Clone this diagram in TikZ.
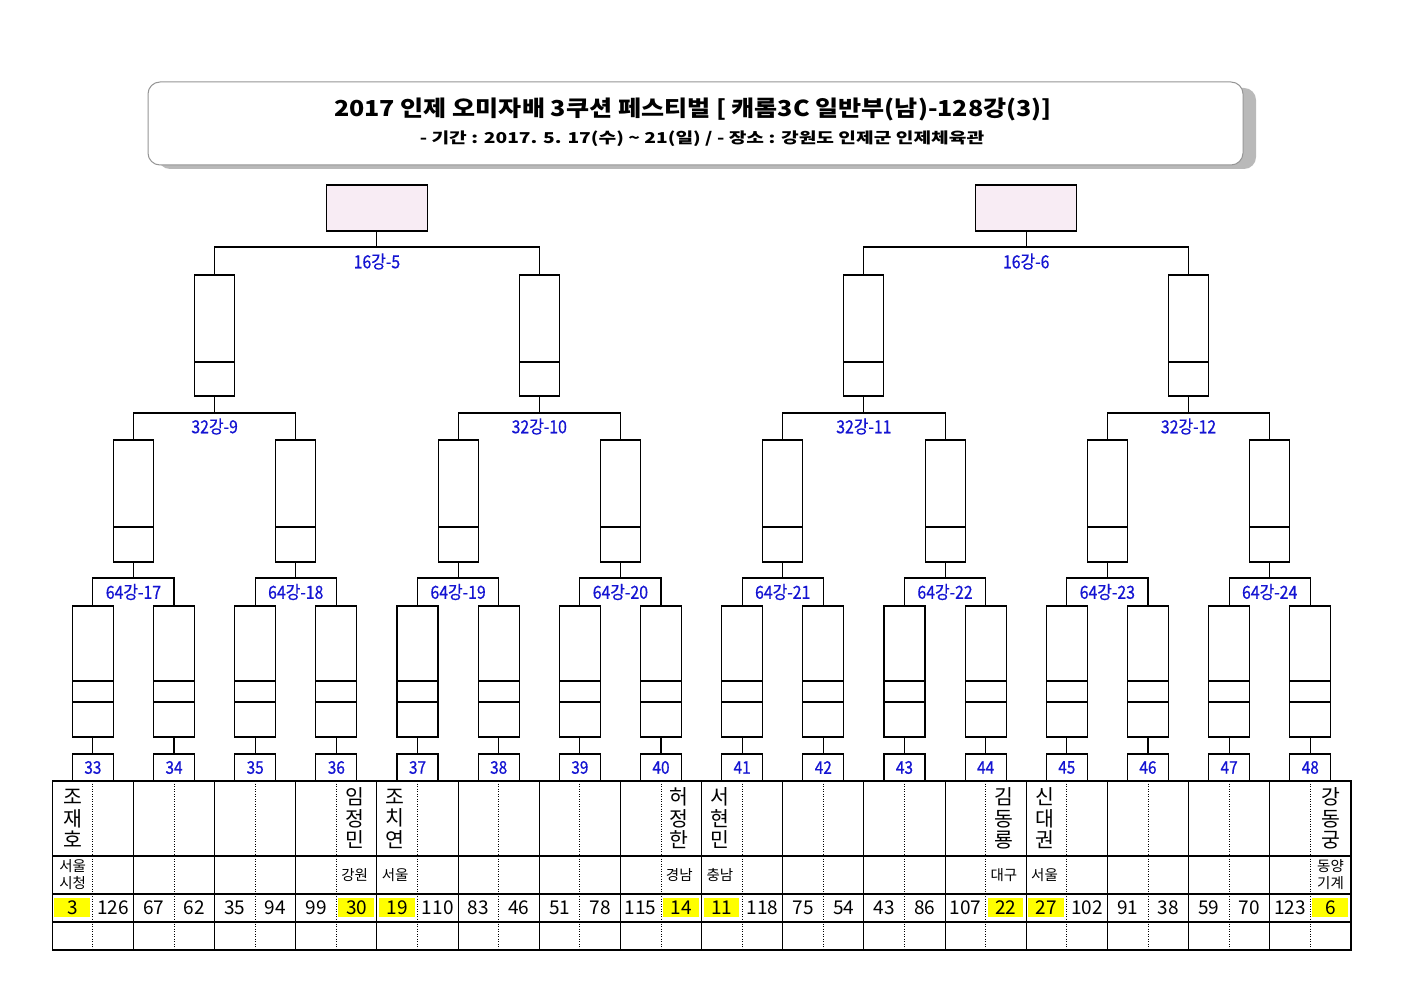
\documentclass[tikz,border=0pt]{standalone}
\usepackage{fontspec}
\setmainfont{Noto Sans CJK KR}
\newfontfamily\labfont[FakeStretch=0.88,FakeBold=0.6]{Noto Sans CJK KR}
\newfontfamily\ttlfont[FakeStretch=1.14]{Noto Sans CJK KR}
\newfontfamily\subfont[FakeStretch=1.28]{Noto Sans CJK KR}
\definecolor{labblue}{RGB}{20,20,210}
\definecolor{pinkfill}{RGB}{248,236,244}
\definecolor{tborder}{RGB}{150,150,150}
\definecolor{tshadow}{RGB}{185,185,185}
\definecolor{hiyellow}{RGB}{255,255,0}
\begin{document}
\begin{tikzpicture}[x=1pt,y=-1pt,line width=1.1pt,
  mbox64/.style={draw,minimum width=41pt,minimum height=131pt,inner sep=0pt},
  mbox32/.style={draw,minimum width=40pt,minimum height=122pt,inner sep=0pt},
  mbox16/.style={draw,minimum width=40pt,minimum height=121pt,inner sep=0pt},
  pinkbox/.style={draw,fill=pinkfill,minimum width=101pt,minimum height=46pt,inner sep=0pt},
  numbox/.style={draw,minimum width=41pt,minimum height=27pt,inner sep=0pt,text=labblue,font=\labfont\fontsize{17.5}{17.5}\selectfont},
  lab/.style={inner sep=0pt,text=labblue,font=\labfont\fontsize{18}{18}\selectfont},
  numtxt/.style={inner sep=0pt,font=\fontsize{19}{19}\selectfont},
  nametxt/.style={inner sep=0pt,align=center,font=\fontsize{20.5}{21.5}\selectfont},
  afftxt/.style={inner sep=0pt,align=center,font=\fontsize{14.5}{16.5}\selectfont},
  dotline/.style={line width=0.9pt,dash pattern=on 1pt off 1.5pt}
]
\useasboundingbox (0,0) rectangle (1403,992);
\fill[white] (0,0) rectangle (1403,992);
\def\cw{40.58}
\def\xo{52.3}
% title box
\fill[tshadow,rounded corners=12pt] (158,88) rectangle (1256,169);
\node[draw=tborder,fill=white,line width=1pt,rounded corners=12pt,minimum width=1095pt,minimum height=83pt,inner sep=0pt] (tbox) at (695.5,123.5) {};
\node[inner sep=0pt,font=\ttlfont\bfseries\fontsize{22}{22}\selectfont] (ttl) at (693,109) {2017 인제 오미자배 3쿠션 페스티벌 [ 캐롬3C 일반부(남)-128강(3)]};
\node[inner sep=0pt,font=\subfont\bfseries\fontsize{15}{15}\selectfont] (sub) at (702,139) {- 기간 : 2017. 5. 17(수) \textasciitilde{} 21(일) / - 장소 : 강원도 인제군 인제체육관};
% 64 level
\foreach \k in {0,...,15}{
  \pgfmathsetmacro\cx{\xo+\cw*(2*\k+1)}
  \pgfmathtruncatemacro\num{33+\k}
  \node[mbox64] (a\k) at (\cx,671.5) {};
  \draw (\cx-20.5,681) -- (\cx+20.5,681);
  \draw (\cx-20.5,702) -- (\cx+20.5,702);
  \node[numbox] (n\k) at (\cx,767.5) {\num};
  \draw (a\k.south) -- (n\k.north);
}
% 32 level
\foreach \p in {0,...,7}{
  \pgfmathsetmacro\mx{\xo+\cw*(4*\p+2)}
  \pgfmathtruncatemacro\pa{2*\p}
  \pgfmathtruncatemacro\pb{2*\p+1}
  \pgfmathtruncatemacro\lb{17+\p}
  \node[mbox32] (b\p) at (\mx,501) {};
  \draw (\mx-20,527) -- (\mx+20,527);
  \coordinate (j\p) at (\mx,578);
  \node[lab] (l\p) at (\mx,592) {64강-\lb};
  \draw (a\pa.north) |- (j\p) -| (a\pb.north);
  \draw (j\p) -- (b\p.south);
}
% 16 level
\foreach \q in {0,...,3}{
  \pgfmathsetmacro\mx{\xo+\cw*(8*\q+4)}
  \pgfmathtruncatemacro\pa{2*\q}
  \pgfmathtruncatemacro\pb{2*\q+1}
  \pgfmathtruncatemacro\lb{9+\q}
  \node[mbox16] (c\q) at (\mx,335.5) {};
  \draw (\mx-20,362) -- (\mx+20,362);
  \coordinate (k\q) at (\mx,413);
  \node[lab] (m\q) at (\mx,426.5) {32강-\lb};
  \draw (b\pa.north) |- (k\q) -| (b\pb.north);
  \draw (k\q) -- (c\q.south);
}
% 8 level
\foreach \r in {0,1}{
  \pgfmathsetmacro\mx{\xo+\cw*(16*\r+8)}
  \pgfmathtruncatemacro\pa{2*\r}
  \pgfmathtruncatemacro\pb{2*\r+1}
  \pgfmathtruncatemacro\lb{5+\r}
  \node[pinkbox] (d\r) at (\mx,208) {};
  \coordinate (h\r) at (\mx,247);
  \node[lab] (o\r) at (\mx,261.5) {16강-\lb};
  \draw (c\pa.north) |- (h\r) -| (c\pb.north);
  \draw (h\r) -- (d\r.south);
}
% table highlights
\foreach \i in {0,7,8,15,16,23,24,31}{
  \fill[hiyellow] (\xo+\cw*\i+2,898) rectangle (\xo+\cw*\i+\cw-3,917);
}
% table lines
\draw (\xo,781) rectangle (1351,950);
\foreach \yy in {856,894,922}{ \draw (\xo,\yy) -- (1351,\yy); }
\foreach \i in {1,...,31}{
  \ifodd\i
    \draw[dotline] (\xo+\cw*\i,781) -- (\xo+\cw*\i,950);
  \else
    \draw (\xo+\cw*\i,781) -- (\xo+\cw*\i,950);
  \fi
}
% seeds
\foreach \v [count=\i from 0] in {3,126,67,62,35,94,99,30,19,110,83,46,51,78,115,14,11,118,75,54,43,86,107,22,27,102,91,38,59,70,123,6}{
  \node[numtxt] (s\i) at (\xo+\cw*\i+\cw/2,908) {\v};
}
% names
\node[nametxt] (p0) at (\xo+\cw*0.5,818.5) {조\\재\\호};
\node[nametxt] (p7) at (\xo+\cw*7.5-2,818.5) {임\\정\\민};
\node[nametxt] (p8) at (\xo+\cw*8.5-2,818.5) {조\\치\\연};
\node[nametxt] (p15) at (\xo+\cw*15.5-2,818.5) {허\\정\\한};
\node[nametxt] (p16) at (\xo+\cw*16.5-2,818.5) {서\\현\\민};
\node[nametxt] (p23) at (\xo+\cw*23.5-2,818.5) {김\\동\\룡};
\node[nametxt] (p24) at (\xo+\cw*24.5-2,818.5) {신\\대\\권};
\node[nametxt] (p31) at (\xo+\cw*31.5,818.5) {강\\동\\궁};
% affiliations
\node[afftxt] (f0) at (\xo+\cw*0.5,874.5) {서울\\시청};
\node[afftxt] (f7) at (\xo+\cw*7.5-2,875) {강원};
\node[afftxt] (f8) at (\xo+\cw*8.5-2,875) {서울};
\node[afftxt] (f15) at (\xo+\cw*15.5-2,875) {경남};
\node[afftxt] (f16) at (\xo+\cw*16.5-2,875) {충남};
\node[afftxt] (f23) at (\xo+\cw*23.5-2,875) {대구};
\node[afftxt] (f24) at (\xo+\cw*24.5-2,875) {서울};
\node[afftxt] (f31) at (\xo+\cw*31.5,874.5) {동양\\기계};
\end{tikzpicture}
\end{document}
